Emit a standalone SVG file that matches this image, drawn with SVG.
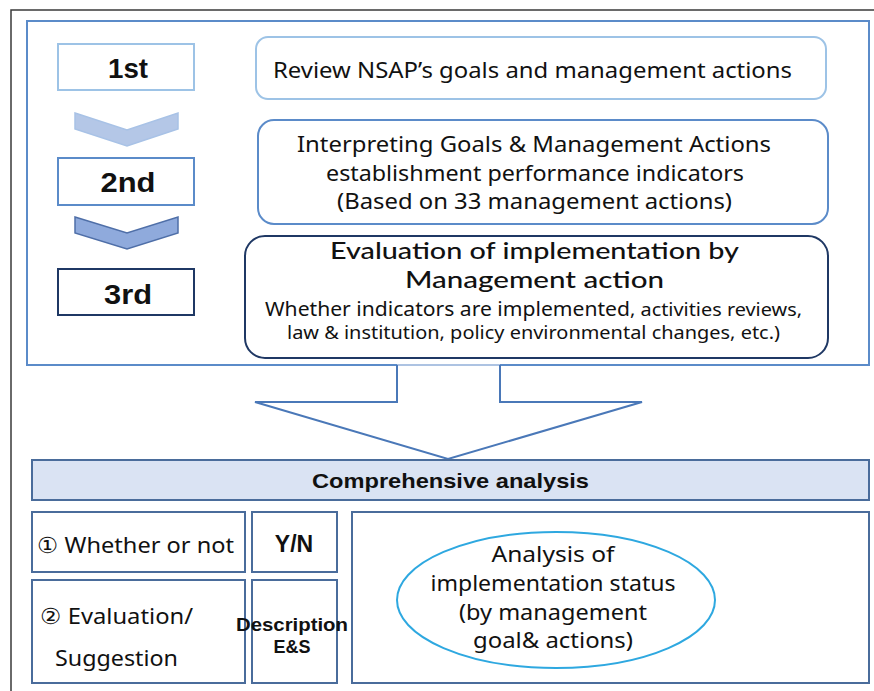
<svg xmlns="http://www.w3.org/2000/svg" width="874" height="691" viewBox="0 0 874 691">
<style>
  text { font-family: "Noto Sans", "Liberation Sans", sans-serif; fill: #111; }
  .t22 { font-size: 22px; }
  .t20 { font-size: 20px; }
  .t18 { font-size: 18px; }
  .bold { font-weight: bold; font-family: "Liberation Sans", "Noto Sans", sans-serif; }
  .step { font-size: 28px; font-weight: bold; font-family: "Liberation Sans", sans-serif; }
  .title { font-size: 23px; font-family: "Lato", "Liberation Sans", sans-serif; font-weight: 500; }
  .box { fill: #fff; stroke-width: 2; }
  .cell { fill: #fff; stroke: #4a6c9b; stroke-width: 2; }
</style>
<rect id="frame" x="11" y="10" width="900" height="700" fill="#fff" stroke="#3a3a3a" stroke-width="1.5"/>
<rect id="outer-box" x="27" y="21" width="842" height="344" fill="#fff" stroke="#5b8bc9" stroke-width="2"/>

<g id="connectors">
  <polygon id="chevron1" points="75,113 127,130 178,113 178,129 127,146 75,129" fill="#b4c7e7" stroke="#a8c2e6" stroke-width="1.5"/>
  <polygon id="chevron2" points="75,217 127,233 178,217 178,233 127,249 75,233" fill="#8faadc" stroke="#4f6fa8" stroke-width="1.5"/>
  <polygon id="big-arrow-fill" points="397,366 397,402 255,402 448,459 642,402 500,402 500,366" fill="#fff" stroke="none"/>
  <line x1="397" y1="365" x2="500" y2="365" stroke="#c9d6ea" stroke-width="1.5"/>
  <polyline id="big-arrow" points="397,365 397,402 255,402 448,459 642,402 500,402 500,365" fill="none" stroke="#4a78b8" stroke-width="2"/>
</g>

<g id="step1">
  <rect class="box" x="58" y="44" width="136" height="46" stroke="#9dc3e6"/>
  <text class="step" x="128" y="78" text-anchor="middle" textLength="40" lengthAdjust="spacingAndGlyphs">1st</text>
</g>
<g id="step2">
  <rect class="box" x="58" y="158" width="136" height="47" stroke="#5b8bc9"/>
  <text class="step" x="128" y="192" text-anchor="middle" textLength="55" lengthAdjust="spacingAndGlyphs">2nd</text>
</g>
<g id="step3">
  <rect class="box" x="58" y="269" width="136" height="46" stroke="#1f3864"/>
  <text class="step" x="128" y="304" text-anchor="middle" textLength="48" lengthAdjust="spacingAndGlyphs">3rd</text>
</g>

<g id="review">
  <rect class="box" x="256" y="37" width="570" height="62" rx="12" stroke="#9dc3e6"/>
  <text class="t22" x="273" y="78" textLength="519" lengthAdjust="spacingAndGlyphs">Review NSAP’s goals and management actions</text>
</g>
<g id="interpreting">
  <rect class="box" x="258" y="120" width="570" height="104" rx="16" stroke="#5b8bc9"/>
  <text class="t22" x="297" y="152" textLength="474" lengthAdjust="spacingAndGlyphs">Interpreting Goals &amp; Management Actions</text>
  <text class="t22" x="326" y="181" textLength="418" lengthAdjust="spacingAndGlyphs">establishment performance indicators</text>
  <text class="t22" x="337" y="209" textLength="395" lengthAdjust="spacingAndGlyphs">(Based on 33 management actions)</text>
</g>
<g id="evaluation">
  <rect class="box" x="245" y="236" width="583" height="122" rx="20" stroke="#1f3864"/>
  <text class="title" x="330" y="259" textLength="409" lengthAdjust="spacingAndGlyphs">Evaluation of implementation by</text>
  <text class="title" x="405" y="288" textLength="259" lengthAdjust="spacingAndGlyphs">Management action</text>
  <text class="t20" x="265" y="316" textLength="365" lengthAdjust="spacingAndGlyphs">Whether indicators are implemented</text>
  <text class="t18" x="630" y="316" textLength="172" lengthAdjust="spacingAndGlyphs">, activities reviews,</text>
  <text class="t18" x="287" y="339" textLength="493" lengthAdjust="spacingAndGlyphs">law &amp; institution, policy environmental changes, etc.)</text>
</g>

<g id="comprehensive">
  <rect x="32" y="460" width="837" height="40" fill="#dae3f3" stroke="#4a6c9b" stroke-width="2"/>
  <text class="bold" x="312" y="488" font-size="21" textLength="277" lengthAdjust="spacingAndGlyphs">Comprehensive analysis</text>
</g>
<g id="whether">
  <rect class="cell" x="32" y="512" width="213" height="60"/>
  <text class="t22" x="37" y="553" textLength="197" lengthAdjust="spacingAndGlyphs">① Whether or not</text>
</g>
<g id="yn">
  <rect class="cell" x="252" y="512" width="85" height="60"/>
  <text class="bold" x="294" y="552" font-size="23" text-anchor="middle">Y/N</text>
</g>
<g id="evalsugg">
  <rect class="cell" x="32" y="580" width="213" height="103"/>
  <text class="t22" x="40" y="624" textLength="153" lengthAdjust="spacingAndGlyphs">② Evaluation/</text>
  <text class="t22" x="55" y="666" textLength="123" lengthAdjust="spacingAndGlyphs">Suggestion</text>
</g>
<g id="description">
  <rect class="cell" x="252" y="580" width="85" height="103"/>
  <text class="bold" x="292" y="631" font-size="18" text-anchor="middle" textLength="112" lengthAdjust="spacingAndGlyphs">Description</text>
  <text class="bold" x="292" y="653" font-size="18" text-anchor="middle">E&amp;S</text>
</g>
<g id="analysis">
  <rect class="cell" x="352" y="512" width="517" height="171"/>
  <ellipse cx="556" cy="600" rx="159" ry="68" fill="#fff" stroke="#2ea8e0" stroke-width="2"/>
  <text class="t22" x="553" y="562" text-anchor="middle" textLength="123" lengthAdjust="spacingAndGlyphs">Analysis of</text>
  <text class="t22" x="553" y="591" text-anchor="middle" textLength="245" lengthAdjust="spacingAndGlyphs">implementation status</text>
  <text class="t22" x="553" y="620" text-anchor="middle" textLength="188" lengthAdjust="spacingAndGlyphs">(by management</text>
  <text class="t22" x="553" y="648" text-anchor="middle" textLength="160" lengthAdjust="spacingAndGlyphs">goal&amp; actions)</text>
</g>
</svg>
